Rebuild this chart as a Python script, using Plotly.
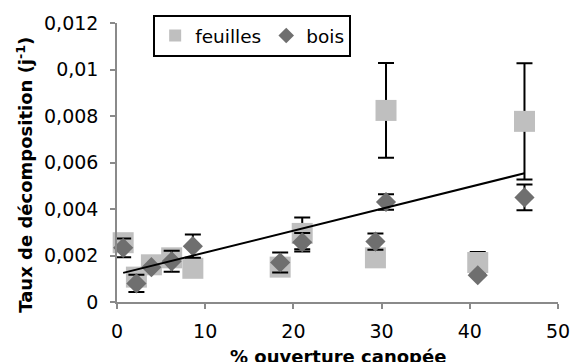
import numpy as np
import plotly.graph_objects as go

# Canopy openness (%) at each plot
ouverture = [0.7, 2.2, 3.9, 6.2, 8.6, 18.5, 21.0, 29.3, 30.5, 40.9, 46.2]

# Decomposition rates (per day) and their standard errors
feuilles = [0.00255, 0.00107, 0.0016, 0.0019, 0.00145, 0.0015, 0.00295, 0.0019, 0.00824, 0.0017, 0.00777]
feuilles_err = [0.0002, 0.0002, 0.0002, 0.0002, 0.0002, 0.0002, 0.00068, 0.0002, 0.00204, 0.00045, 0.0025]
bois = [0.00233, 0.0008, 0.0015, 0.00175, 0.0024, 0.0017, 0.00257, 0.0026, 0.0043, 0.00115, 0.0045]
bois_err = [0.0004, 0.00037, 0.0, 0.00045, 0.0005, 0.00043, 0.0004, 0.00035, 0.00033, 0.0, 0.00055]

y_ticks = [0, 0.002, 0.004, 0.006, 0.008, 0.010, 0.012]
y_labels = ["0", "0,002", "0,004", "0,006", "0,008", "0,01", "0,012"]
x_ticks = [0, 10, 20, 30, 40, 50]
x_labels = ["0", "10", "20", "30", "40", "50"]

FONT = "DejaVu Sans, Verdana, sans-serif"
AXIS_GREY = "#8a8a8a"

# Linear trend fitted on the leaf litter series
slope, intercept = np.polyfit(ouverture, feuilles, 1)
trend_x = np.array([min(ouverture), max(ouverture)])
trend_y = slope * trend_x + intercept

fig = go.Figure()
fig.add_trace(go.Scatter(
    x=ouverture, y=feuilles, mode="markers", name="feuilles",
    marker=dict(symbol="square", size=21, color="#bfbfbf"),
    error_y=dict(type="data", array=feuilles_err, visible=True,
                 color="black", thickness=2, width=8),
    cliponaxis=False,
))
fig.add_trace(go.Scatter(
    x=ouverture, y=bois, mode="markers", name="bois",
    marker=dict(symbol="diamond", size=15.5, color="#6f6f6f"),
    error_y=dict(type="data", array=bois_err, visible=True,
                 color="black", thickness=2, width=8),
    cliponaxis=False,
))
fig.add_trace(go.Scatter(
    x=trend_x, y=trend_y, mode="lines", showlegend=False,
    line=dict(color="black", width=2),
))

fig.update_layout(
    width=582, height=362,
    margin=dict(l=117, r=13, t=21, b=60),
    paper_bgcolor="white", plot_bgcolor="white",
    font=dict(family=FONT, size=19, color="black"),
    showlegend=True,
    legend=dict(
        orientation="h", x=0.082, y=1.0285, xanchor="left", yanchor="top",
        bgcolor="white", bordercolor="black", borderwidth=2,
        font=dict(family=FONT, size=18.5, color="black"),
        itemsizing="constant", itemwidth=30,
    ),
    xaxis=dict(
        range=[0, 50], tickvals=x_ticks, ticktext=x_labels,
        showline=True, linecolor=AXIS_GREY, linewidth=1.5,
        ticks="outside", ticklen=5, tickcolor=AXIS_GREY, tickwidth=1.5,
        showgrid=False, zeroline=False, layer="above traces",
        ticklabelstandoff=6,
    ),
    yaxis=dict(
        range=[0, 0.012], tickvals=y_ticks, ticktext=y_labels,
        showline=True, linecolor=AXIS_GREY, linewidth=1.5,
        ticks="outside", ticklen=5, tickcolor=AXIS_GREY, tickwidth=1.5,
        showgrid=False, zeroline=False, layer="above traces",
        ticklabelstandoff=8,
    ),
    annotations=[
        dict(text="<b>% ouverture canopée</b>", xref="paper", yref="paper",
             x=0.5, y=-0.196, xanchor="center", yanchor="middle",
             showarrow=False, font=dict(family=FONT, size=18, color="black")),
        dict(text="<b>Taux de décomposition (j<sup>-1</sup>)</b>", xref="paper", yref="paper",
             x=-0.208, y=0.457, xanchor="center", yanchor="middle", textangle=-90,
             showarrow=False, font=dict(family=FONT, size=18, color="black")),
    ],
)

fig.write_html("out.html")
